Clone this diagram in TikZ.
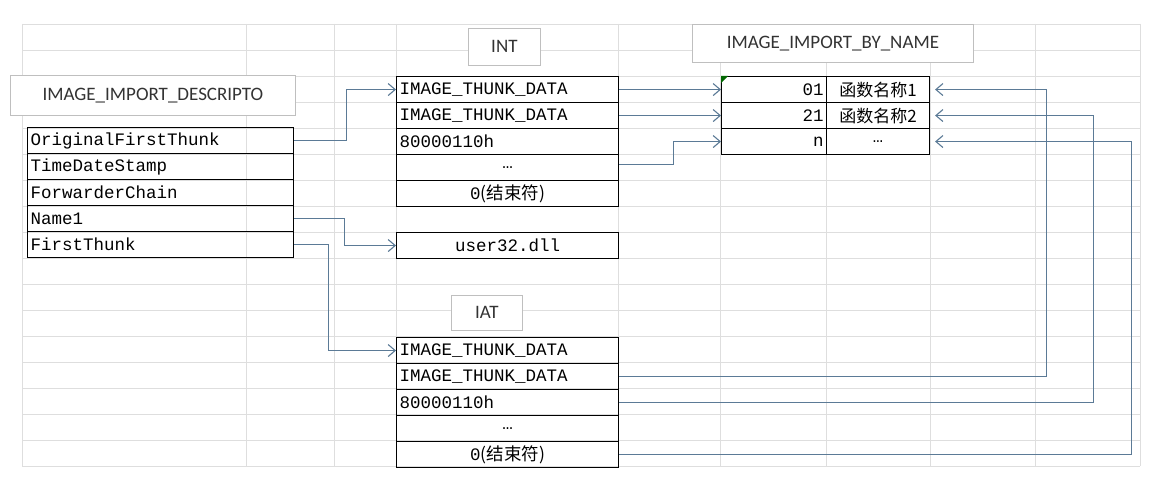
\documentclass[tikz,border=0pt]{standalone}
\usepackage{fontspec}
\setmainfont{Liberation Serif}
\newfontfamily\mono{Liberation Mono}
\newfontfamily\cjk{Noto Sans CJK SC}
\newfontfamily\lab{Carlito}
\newcommand{\zh}[1]{{\cjk #1}}
\usetikzlibrary{arrows.meta}
\definecolor{conncol}{HTML}{5B7A96}
\begin{document}
\begin{tikzpicture}[x=1pt,y=-1pt,
  grid/.style={draw=black!13,line width=0.8pt},
  cell/.style={draw=black,line width=1.1pt,minimum height=26pt,inner sep=2pt,font=\mono\fontsize{17.5}{17.5}\selectfont,anchor=north west},
  lbl/.style={draw=black!25,line width=0.8pt,fill=white,font=\lab\fontsize{19}{19}\selectfont,text=black!80,anchor=north west},
  conn/.style={draw=conncol,line width=1.1pt,-{Straight Barb[length=7pt,width=12pt]}}]
\useasboundingbox (0,0) rectangle (1168,486);
\fill[white] (0,0) rectangle (1168,486);
% grid
\foreach \y in {24,50,...,466} \draw[grid] (22,\y) -- (1140,\y);
\foreach \x in {22,246,334,396,618,720,826,930,1035,1140} \draw[grid] (\x,24) -- (\x,466);
% labels
\node[lbl,minimum width=285pt,minimum height=40pt] (ld) at (10,75) {IMAGE\_IMPORT\_DESCRIPTO};
\node[lbl,minimum width=72pt,minimum height=37pt] (li) at (468,28) {INT};
\node[lbl,minimum width=281pt,minimum height=38pt] (lb) at (692,24) {IMAGE\_IMPORT\_BY\_NAME};
\node[lbl,minimum width=71pt,minimum height=35pt] (la) at (451,295) {IAT};
% descriptor
\foreach \t [count=\i from 0] in {OriginalFirstThunk,TimeDateStamp,ForwarderChain,Name1,FirstThunk}
  \node[cell,minimum width=266pt,text width=260pt,align=left] (d\i) at (27,127+26*\i) {\t};
% INT
\foreach \t/\a [count=\i from 0] in {IMAGE\_THUNK\_DATA/left,IMAGE\_THUNK\_DATA/left,80000110h/left,\dots/center,0\zh{(结束符)}/center}
  \node[cell,minimum width=222pt,text width=216pt,align=\a] (n\i) at (396,76+26*\i) {\t};
\node[cell,minimum width=222pt,text width=216pt,align=center] (u) at (396,232) {user32.dll};
% IAT
\foreach \t/\a [count=\i from 0] in {IMAGE\_THUNK\_DATA/left,IMAGE\_THUNK\_DATA/left,80000110h/left,\dots/center,0\zh{(结束符)}/center}
  \node[cell,minimum width=222pt,text width=216pt,align=\a] (t\i) at (396,337+26*\i) {\t};
% by name
\foreach \h/\nm [count=\i from 0] in {01/\zh{函数名称1},21/\zh{函数名称2},n/\dots}{
  \node[cell,minimum width=105pt,text width=99pt,align=right] (h\i) at (721,76+26*\i) {\h};
  \node[cell,minimum width=103pt,text width=97pt,align=center,font=\mono\fontsize{17}{17}\selectfont] (m\i) at (826,76+26*\i) {\nm};}
\fill[green!40!black] (721,76) -- (728,76) -- (721,83) -- cycle;
% connectors
\draw[conn] (d0.east) -- ++(52,0) |- (n0.west);
\draw[conn] (n0.east) -- (h0.west);
\draw[conn] (n1.east) -- (h1.west);
\draw[conn] ([yshift=3pt]n3.east) -- ++(54,0) |- (h2.west);
\draw[conn] (d3.east) -- ++(50,0) |- (u.west);
\draw[conn] (d4.east) -- ++(34,0) |- (t0.west);
\draw[conn] (t1.east) -- ++(427,0) |- ([xshift=5pt]m0.east);
\draw[conn] (t2.east) -- ++(474,0) |- ([xshift=5pt]m1.east);
\draw[conn] (t4.east) -- ++(512,0) |- ([xshift=5pt]m2.east);
\end{tikzpicture}
\end{document}
